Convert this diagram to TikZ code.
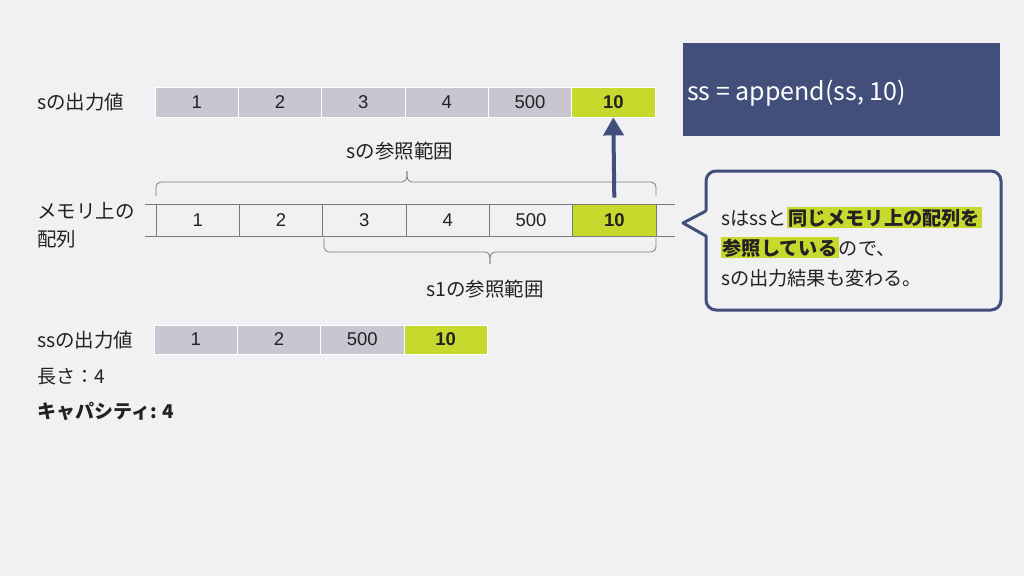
\documentclass[tikz,border=0pt]{standalone}
\usepackage{fontspec}
\setmainfont{Liberation Sans}
\newfontfamily\jp{Noto Sans CJK JP}
\usetikzlibrary{arrows.meta}
\definecolor{bg}{HTML}{F1F1F4}
\definecolor{cellgray}{HTML}{C9C6D1}
\definecolor{lime}{HTML}{C8D92E}
\definecolor{navy}{HTML}{424F7B}
\definecolor{linegray}{HTML}{7A7A7A}
\definecolor{txt}{HTML}{222222}
\begin{document}
\begin{tikzpicture}[x=1pt,y=-1pt,
  cellbase/.style={minimum width=83.33pt, minimum height=30pt, inner sep=0pt, text=txt, font=\fontsize{18.5}{20}\selectfont},
  graycell/.style={cellbase, fill=cellgray, draw=white, line width=0.8pt},
  greencell/.style={cellbase, fill=lime, draw=white, line width=0.8pt, font=\bfseries\fontsize{18.5}{20}\selectfont},
  memcell/.style={cellbase, draw=linegray, line width=0.8pt, minimum height=32pt},
  memgreen/.style={memcell, fill=lime, font=\bfseries\fontsize{18.5}{20}\selectfont},
  lbl/.style={anchor=west, inner sep=0pt, text=txt, font=\jp\fontsize{19.5}{28}\selectfont, align=left},
  brc/.style={draw=linegray, line width=0.8pt, rounded corners=5pt},
  uparrow/.style={draw=navy, line width=4pt, -{Triangle[width=20pt,length=18pt]}}
]
\path[fill=bg] (0,0) rectangle (1024,576);

% top row: s output
\node[lbl] (ls) at (37,102) {sの出力値};
\node[graycell] (t1) at (196.7,102) {1};
\node[graycell] (t2) at (280,102) {2};
\node[graycell] (t3) at (363.3,102) {3};
\node[graycell] (t4) at (446.7,102) {4};
\node[graycell] (t5) at (530,102) {500};
\node[greencell] (t6) at (613.3,102) {10};

% reference range of s
\node[lbl, anchor=center] (lsr) at (400,151) {sの参照範囲};
\draw[brc] (156,196) -- (156,182) -- (407,182) -- (407,171);
\draw[brc] (656,196) -- (656,182) -- (407,182) -- (407,171);

% memory row
\node[lbl, anchor=north west] (lmem) at (37,202) {メモリ上の\\配列};
\coordinate (mtl) at (145,204);
\coordinate (mtr) at (675,204);
\coordinate (mbl) at (145,236);
\coordinate (mbr) at (675,236);
\node[memcell] (m1) at (197.7,220) {1};
\node[memcell] (m2) at (281,220) {2};
\node[memcell] (m3) at (364.3,220) {3};
\node[memcell] (m4) at (447.7,220) {4};
\node[memcell] (m5) at (531,220) {500};
\node[memgreen] (m6) at (614.3,220) {10};
\draw[draw=linegray, line width=0.8pt] (mtl) -- (mtr);
\draw[draw=linegray, line width=0.8pt] (mbl) -- (mbr);

% reference range of s1
\draw[brc] (324,238) -- (324,252) -- (490,252) -- (490,264);
\draw[brc] (656,238) -- (656,252) -- (490,252) -- (490,264);
\node[lbl, anchor=center] (ls1r) at (485,289) {s1の参照範囲};

% arrow
\draw[uparrow] ([yshift=6pt]m6.north) -- (t6.south);

% ss output
\node[lbl] (lss) at (37,340) {ssの出力値};
\node[graycell, minimum height=29pt] (s1) at (195.7,339.5) {1};
\node[graycell, minimum height=29pt] (s2) at (279,339.5) {2};
\node[graycell, minimum height=29pt] (s3) at (362.3,339.5) {500};
\node[greencell, minimum height=29pt] (s4) at (445.7,339.5) {10};

\node[lbl, font=\jp\fontsize{19}{20}\selectfont] (llen) at (37,377) {長さ：4};
\node[lbl, font=\jp\bfseries\fontsize{19}{20}\selectfont] (lcap) at (37,411) {キャパシティ: 4};

% command box
\node[fill=navy, minimum width=317pt, minimum height=93pt, inner sep=0pt] (cmd) at (841.5,89.5) {};
\node[anchor=west, inner sep=0pt, text=white, font=\jp\fontsize{25}{28}\selectfont] (cmdt) at (687,93) {ss = append(ss, 10)};

% callout
\coordinate (ctip) at (683,223);
\draw[draw=navy, line width=3pt, fill=bg, line join=round] (706,211) -- (ctip) -- (706,236)
  [rounded corners=10pt] -- (706,310) -- (1001,310) -- (1001,171) -- (706,171) -- (706,211);
\node[anchor=west, inner sep=0pt, text=txt, align=left, font=\jp\fontsize{19.2}{30}\selectfont] (ctext) at (721,247)
  {sはssと{\setlength{\fboxsep}{1.5pt}\colorbox{lime}{\bfseries 同じメモリ上の配列を}}\\
   {\setlength{\fboxsep}{1.5pt}\colorbox{lime}{\bfseries 参照している}}ので、\\
   sの出力結果も変わる。};
\end{tikzpicture}
\end{document}
